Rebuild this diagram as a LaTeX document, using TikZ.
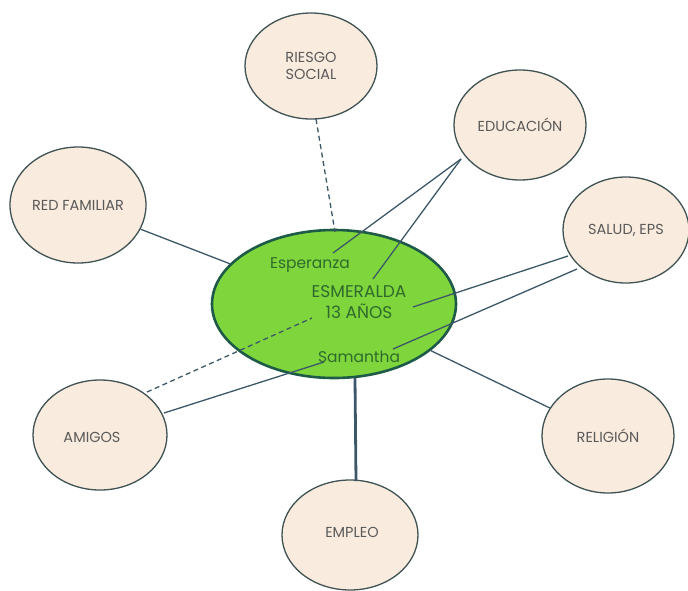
\documentclass[tikz,border=0pt]{standalone}
\usepackage{fontspec}
\setmainfont{Poppins}
\usetikzlibrary{shapes.geometric}
\definecolor{peach}{HTML}{F9EBDD}
\definecolor{rim}{HTML}{3F5254}
\definecolor{lime}{HTML}{7ED63C}
\definecolor{deep}{HTML}{1E5A48}
\definecolor{link}{HTML}{3C5868}
\definecolor{inner}{HTML}{2F6A2C}
\definecolor{cap}{HTML}{5A5A5A}
\tikzset{
  topic/.style={ellipse, draw=rim, line width=1.3pt, fill=peach, minimum width=#1, inner sep=0pt,
    font=\fontsize{14.5}{17}\selectfont, text=cap, align=center},
  topic/.default={132pt},
  hub/.style={ellipse, draw=deep, line width=2.6pt, fill=lime, minimum width=244pt, minimum height=148pt},
  tag/.style={font=\fontsize{15.5}{21}\selectfont, text=inner, align=center},
  conn/.style={draw=link, line width=1.3pt},
  dconn/.style={conn, dashed, dash pattern=on 5pt off 3.5pt},
}
\begin{document}
\begin{tikzpicture}[x=1pt,y=-1pt]
\useasboundingbox (0,0) rectangle (688,590);
% hub
\node[hub] (hub) at (334,304) {};
% topics
\node[topic, minimum height=106pt] (riesgo) at (311,66) {RIESGO\\SOCIAL};
\node[topic, minimum height=110pt] (edu) at (520,125) {EDUCACIÓN};
\node[topic, minimum width=136pt, minimum height=116pt] (red) at (78,205) {RED FAMILIAR};
\node[topic, minimum width=126pt, minimum height=106pt] (salud) at (626,230) {SALUD, EPS};
\node[topic, minimum height=114pt] (rel) at (608,436) {RELIGIÓN};
\node[topic, minimum width=134pt, minimum height=110pt] (amigos) at (100,435) {};
\node[topic, minimum width=136pt, minimum height=110pt] (empleo) at (350,535) {};
\node[topic, draw=none, fill=none, minimum width=0pt] (amigosT) at (92,437) {AMIGOS};
\node[topic, draw=none, fill=none, minimum width=0pt] (empleoT) at (352,532) {EMPLEO};
% coordinates inside hub
\coordinate (eA) at (333,253);
\coordinate (eB) at (373,279);
\coordinate (sA) at (413,307);
\coordinate (sB) at (393,349);
\coordinate (aS) at (324,362);
\coordinate (aD) at (312,318);
\coordinate (rD) at (335,232);
\coordinate (mT) at (355,378);
\coordinate (eduP) at (461,159);
\coordinate (salA) at (568,256);
\coordinate (salB) at (577,269);
\coordinate (amS) at (164,413);
\coordinate (amD) at (147,392);
\coordinate (riB) at (316,119);
\coordinate (emT) at (356,481);
% connectors
\draw[conn] (red) -- (hub);
\draw[conn] (hub) -- (rel);
\draw[dconn] (riB) -- (rD);
\draw[conn] (eduP) -- (eA);
\draw[conn] (eduP) -- (eB);
\draw[conn] (salA) -- (sA);
\draw[conn] (salB) -- (sB);
\draw[conn] (amS) -- (aS);
\draw[dconn] (amD) -- (aD);
\draw[draw=link, line width=2.8pt] (mT) -- (emT);
% labels
\node[tag] (esp) at (310,265) {Esperanza};
\node[tag, font=\fontsize{17}{21}\selectfont] (esm) at (359,302) {ESMERALDA\\13 AÑOS};
\node[tag] (sam) at (359,357) {Samantha};
\end{tikzpicture}
\end{document}
